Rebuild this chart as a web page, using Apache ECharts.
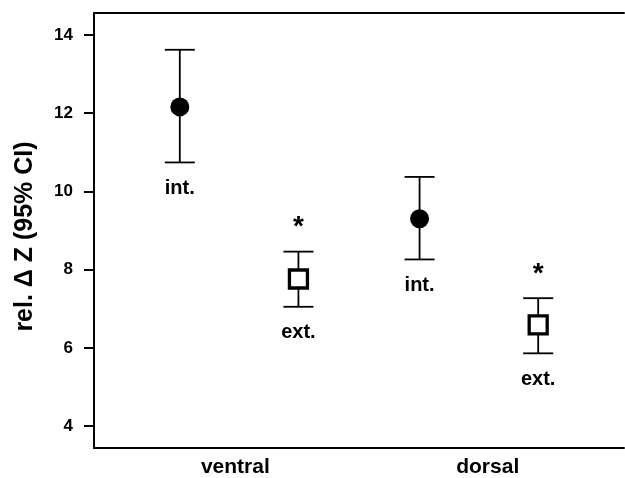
<!DOCTYPE html>
<html>
<head>
<meta charset="utf-8">
<script src="https://cdn.jsdelivr.net/npm/echarts@6/dist/echarts.min.js"></script>
<style>
  html, body { margin: 0; padding: 0; background: #fff; }
  #chart { width: 625px; height: 478px; }
</style>
</head>
<body>
<div id="chart"></div>
<script>
// group labels on the x axis
const categories = ['ventral', 'dorsal'];
const categoryPos = [1, 2];

// internal (filled circle) condition
const intPos = [0.78, 1.73];
const intMean = [12.16, 9.30];
const intLow = [10.74, 8.26];
const intHigh = [13.62, 10.37];

// external (open square) condition
const extPos = [1.25, 2.2];
const extMean = [7.76, 6.59];
const extLow = [7.05, 5.86];
const extHigh = [8.46, 7.27];
const extStar = [true, true];

const yTicks = [4, 6, 8, 10, 12, 14];

const FONT = '"Liberation Sans", Arial, Helvetica, sans-serif';

const errorBars = (name, pos, low, high, label, stars) => ({
  name,
  type: 'custom',
  z: 2,
  data: pos.map((x, i) => [x, low[i], high[i], stars ? (stars[i] ? 1 : 0) : 0]),
  renderItem: (params, api) => {
    const x = api.value(0);
    const top = api.coord([x, api.value(2)]);
    const bot = api.coord([x, api.value(1)]);
    const half = 15;
    const line = { stroke: '#000', lineWidth: 1.8 };
    const children = [
      { type: 'line', shape: { x1: top[0], y1: top[1], x2: bot[0], y2: bot[1] }, style: line },
      { type: 'line', shape: { x1: top[0] - half, y1: top[1], x2: top[0] + half, y2: top[1] }, style: line },
      { type: 'line', shape: { x1: bot[0] - half, y1: bot[1], x2: bot[0] + half, y2: bot[1] }, style: line },
      {
        type: 'text',
        style: {
          text: label, x: bot[0], y: bot[1] + 26,
          align: 'center', verticalAlign: 'middle',
          font: 'bold 20px ' + FONT, fill: '#000'
        }
      }
    ];
    if (api.value(3)) {
      children.push({
        type: 'text',
        style: {
          text: '*', x: top[0], y: top[1] - 24,
          align: 'center', verticalAlign: 'middle',
          font: 'bold 28px ' + FONT, fill: '#000'
        }
      });
    }
    return { type: 'group', children };
  }
});

const chart = echarts.init(document.getElementById('chart'));
chart.setOption({
  animation: false,
  backgroundColor: '#fff',
  grid: { left: 94, top: 13, bottom: 30, right: 1 },
  xAxis: [
    {
      type: 'value',
      min: 0.44,
      max: 2.54,
      splitLine: { show: false },
      axisLine: { lineStyle: { color: '#000', width: 2 } },
      axisTick: { show: false },
      axisLabel: {
        customValues: categoryPos,
        formatter: (v) => categories[categoryPos.indexOf(v)] || '',
        color: '#000',
        fontFamily: FONT,
        fontWeight: 'bold',
        fontSize: 21,
        margin: 9
      }
    },
    {
      // top frame line only
      type: 'value',
      position: 'top',
      min: 0.44,
      max: 2.54,
      splitLine: { show: false },
      axisLine: { show: true, lineStyle: { color: '#000', width: 2 } },
      axisTick: { show: false },
      axisLabel: { show: false }
    }
  ],
  yAxis: {
    type: 'value',
    min: 3.44,
    max: 14.56,
    name: 'rel. \u0394 Z (95% CI)',
    nameLocation: 'middle',
    nameGap: 56,
    nameTextStyle: {
      color: '#000', fontFamily: FONT, fontWeight: 'bold', fontSize: 25,
      padding: [0, 12, 0, 0]
    },
    splitLine: { show: false },
    axisLine: { show: true, lineStyle: { color: '#000', width: 2 } },
    axisTick: { show: true, customValues: yTicks, length: 10, lineStyle: { color: '#000', width: 2 } },
    axisLabel: {
      customValues: yTicks,
      color: '#000',
      fontFamily: FONT,
      fontWeight: 'bold',
      fontSize: 17,
      margin: 21
    }
  },
  series: [
    errorBars('int bars', intPos, intLow, intHigh, 'int.', null),
    errorBars('ext bars', extPos, extLow, extHigh, 'ext.', extStar),
    {
      name: 'int.',
      type: 'scatter',
      z: 3,
      symbol: 'circle',
      symbolSize: 19,
      itemStyle: { color: '#000', opacity: 1 },
      data: intPos.map((x, i) => [x, intMean[i]])
    },
    {
      name: 'ext.',
      type: 'scatter',
      z: 3,
      symbol: 'rect',
      symbolSize: 18,
      itemStyle: { color: '#fff', borderColor: '#000', borderWidth: 3.3, opacity: 1 },
      data: extPos.map((x, i) => [x, extMean[i]])
    }
  ]
});
window.addEventListener('resize', () => chart.resize());
</script>
</body>
</html>
